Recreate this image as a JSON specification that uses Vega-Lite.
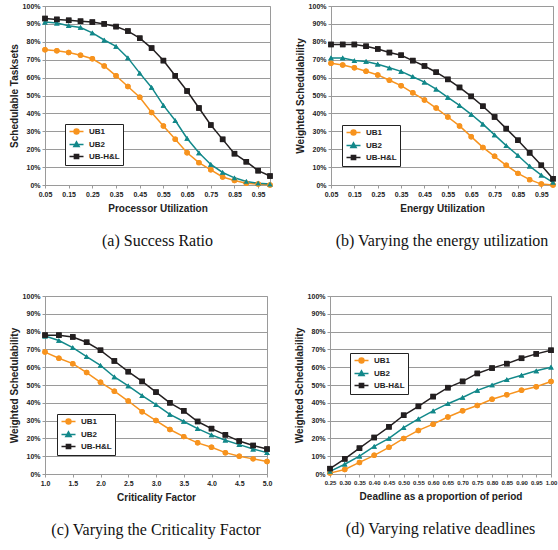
{
  "$schema": "https://vega.github.io/schema/vega-lite/v6.json",
  "padding": {"left": 8, "top": 1, "right": 2, "bottom": 0},
  "background": "white",
  "spacing": 41,
  "config": {
    "view": {"stroke": "#9a9a9a", "strokeWidth": 1},
    "font": "Liberation Sans",
    "axis": {
      "labelFont": "Liberation Sans", "labelFontSize": 7, "labelFontWeight": "bold", "labelColor": "#222",
      "titleFont": "Liberation Sans", "titleFontSize": 10, "titleFontWeight": "bold", "titleColor": "#222",
      "domainColor": "#9a9a9a", "tickColor": "#9a9a9a", "tickSize": 3, "labelPadding": 2,
      "gridColor": "#9a9a9a", "gridWidth": 1, "gridOpacity": 1, "labelOverlap": false, "labelBound": false
    },
    "axisX": {"grid": false, "labelAngle": 0, "titlePadding": 6, "labelFlush": false},
    "axisY": {"titlePadding": 3},
    "legend": {
      "orient": "none", "strokeColor": "#222", "fillColor": "white", "padding": 3,
      "labelFont": "Liberation Sans", "labelFontSize": 8, "labelFontWeight": "bold", "labelColor": "#222",
      "symbolSize": 49, "rowPadding": 1, "labelOffset": 8, "symbolOffset": 4,
      "symbolStrokeWidth": 1.5
    },
    "title": {"orient": "bottom", "font": "Liberation Serif", "fontSize": 16, "fontWeight": "normal", "color": "#111", "offset": 20, "anchor": "middle"}
  },
  "datasets": {
    "a": [
      {"x":0.05,"s":"UB1","y":75.5},{"x":0.10,"s":"UB1","y":75},{"x":0.15,"s":"UB1","y":74},{"x":0.20,"s":"UB1","y":72.5},{"x":0.25,"s":"UB1","y":70.5},{"x":0.30,"s":"UB1","y":66.5},{"x":0.35,"s":"UB1","y":61},{"x":0.40,"s":"UB1","y":55},{"x":0.45,"s":"UB1","y":49},{"x":0.50,"s":"UB1","y":40.5},{"x":0.55,"s":"UB1","y":33},{"x":0.60,"s":"UB1","y":25.5},{"x":0.65,"s":"UB1","y":18},{"x":0.70,"s":"UB1","y":12.5},{"x":0.75,"s":"UB1","y":8.5},{"x":0.80,"s":"UB1","y":4.5},{"x":0.85,"s":"UB1","y":2.5},{"x":0.90,"s":"UB1","y":1},{"x":0.95,"s":"UB1","y":0.5},{"x":1.00,"s":"UB1","y":0},
      {"x":0.05,"s":"UB2","y":91},{"x":0.10,"s":"UB2","y":90.5},{"x":0.15,"s":"UB2","y":89},{"x":0.20,"s":"UB2","y":88},{"x":0.25,"s":"UB2","y":85},{"x":0.30,"s":"UB2","y":81},{"x":0.35,"s":"UB2","y":77.5},{"x":0.40,"s":"UB2","y":71},{"x":0.45,"s":"UB2","y":62.5},{"x":0.50,"s":"UB2","y":54.5},{"x":0.55,"s":"UB2","y":44.5},{"x":0.60,"s":"UB2","y":36},{"x":0.65,"s":"UB2","y":26},{"x":0.70,"s":"UB2","y":18},{"x":0.75,"s":"UB2","y":11.5},{"x":0.80,"s":"UB2","y":7},{"x":0.85,"s":"UB2","y":4},{"x":0.90,"s":"UB2","y":2},{"x":0.95,"s":"UB2","y":1},{"x":1.00,"s":"UB2","y":0.5},
      {"x":0.05,"s":"UB-H&L","y":93},{"x":0.10,"s":"UB-H&L","y":92.5},{"x":0.15,"s":"UB-H&L","y":92},{"x":0.20,"s":"UB-H&L","y":91.5},{"x":0.25,"s":"UB-H&L","y":91},{"x":0.30,"s":"UB-H&L","y":90},{"x":0.35,"s":"UB-H&L","y":88.5},{"x":0.40,"s":"UB-H&L","y":86},{"x":0.45,"s":"UB-H&L","y":82},{"x":0.50,"s":"UB-H&L","y":76.5},{"x":0.55,"s":"UB-H&L","y":69.5},{"x":0.60,"s":"UB-H&L","y":61},{"x":0.65,"s":"UB-H&L","y":52.5},{"x":0.70,"s":"UB-H&L","y":43},{"x":0.75,"s":"UB-H&L","y":33.5},{"x":0.80,"s":"UB-H&L","y":25.5},{"x":0.85,"s":"UB-H&L","y":17.5},{"x":0.90,"s":"UB-H&L","y":13},{"x":0.95,"s":"UB-H&L","y":8},{"x":1.00,"s":"UB-H&L","y":5}
    ],
    "b": [
      {"x":0.05,"s":"UB1","y":68},{"x":0.10,"s":"UB1","y":67},{"x":0.15,"s":"UB1","y":65.5},{"x":0.20,"s":"UB1","y":63.5},{"x":0.25,"s":"UB1","y":61.5},{"x":0.30,"s":"UB1","y":58.5},{"x":0.35,"s":"UB1","y":55.5},{"x":0.40,"s":"UB1","y":51.5},{"x":0.45,"s":"UB1","y":47.5},{"x":0.50,"s":"UB1","y":43},{"x":0.55,"s":"UB1","y":38},{"x":0.60,"s":"UB1","y":33},{"x":0.65,"s":"UB1","y":27},{"x":0.70,"s":"UB1","y":21},{"x":0.75,"s":"UB1","y":16},{"x":0.80,"s":"UB1","y":11},{"x":0.85,"s":"UB1","y":6.5},{"x":0.90,"s":"UB1","y":3},{"x":0.95,"s":"UB1","y":0.5},{"x":1.00,"s":"UB1","y":0},
      {"x":0.05,"s":"UB2","y":71},{"x":0.10,"s":"UB2","y":71},{"x":0.15,"s":"UB2","y":69.5},{"x":0.20,"s":"UB2","y":69},{"x":0.25,"s":"UB2","y":67.5},{"x":0.30,"s":"UB2","y":65.5},{"x":0.35,"s":"UB2","y":63.5},{"x":0.40,"s":"UB2","y":60.5},{"x":0.45,"s":"UB2","y":57.5},{"x":0.50,"s":"UB2","y":53.5},{"x":0.55,"s":"UB2","y":49},{"x":0.60,"s":"UB2","y":44.5},{"x":0.65,"s":"UB2","y":39.5},{"x":0.70,"s":"UB2","y":34},{"x":0.75,"s":"UB2","y":28},{"x":0.80,"s":"UB2","y":22},{"x":0.85,"s":"UB2","y":16.5},{"x":0.90,"s":"UB2","y":10.5},{"x":0.95,"s":"UB2","y":5.5},{"x":1.00,"s":"UB2","y":1.5},
      {"x":0.05,"s":"UB-H&L","y":78.5},{"x":0.10,"s":"UB-H&L","y":78.5},{"x":0.15,"s":"UB-H&L","y":78.5},{"x":0.20,"s":"UB-H&L","y":77.5},{"x":0.25,"s":"UB-H&L","y":76},{"x":0.30,"s":"UB-H&L","y":74},{"x":0.35,"s":"UB-H&L","y":72.5},{"x":0.40,"s":"UB-H&L","y":69.5},{"x":0.45,"s":"UB-H&L","y":66.5},{"x":0.50,"s":"UB-H&L","y":63},{"x":0.55,"s":"UB-H&L","y":59},{"x":0.60,"s":"UB-H&L","y":54.5},{"x":0.65,"s":"UB-H&L","y":49.5},{"x":0.70,"s":"UB-H&L","y":44},{"x":0.75,"s":"UB-H&L","y":38},{"x":0.80,"s":"UB-H&L","y":31.5},{"x":0.85,"s":"UB-H&L","y":25},{"x":0.90,"s":"UB-H&L","y":18},{"x":0.95,"s":"UB-H&L","y":11},{"x":1.00,"s":"UB-H&L","y":3.5}
    ],
    "c": [
      {"x":1.0,"s":"UB1","y":68.5},{"x":1.25,"s":"UB1","y":65},{"x":1.5,"s":"UB1","y":62},{"x":1.75,"s":"UB1","y":57},{"x":2.0,"s":"UB1","y":51.5},{"x":2.25,"s":"UB1","y":46.5},{"x":2.5,"s":"UB1","y":41},{"x":2.75,"s":"UB1","y":35},{"x":3.0,"s":"UB1","y":30},{"x":3.25,"s":"UB1","y":25},{"x":3.5,"s":"UB1","y":21},{"x":3.75,"s":"UB1","y":17.5},{"x":4.0,"s":"UB1","y":15},{"x":4.25,"s":"UB1","y":12},{"x":4.5,"s":"UB1","y":10},{"x":4.75,"s":"UB1","y":8.5},{"x":5.0,"s":"UB1","y":7},
      {"x":1.0,"s":"UB2","y":77.5},{"x":1.25,"s":"UB2","y":75},{"x":1.5,"s":"UB2","y":71},{"x":1.75,"s":"UB2","y":66},{"x":2.0,"s":"UB2","y":61},{"x":2.25,"s":"UB2","y":54.5},{"x":2.5,"s":"UB2","y":49.5},{"x":2.75,"s":"UB2","y":44},{"x":3.0,"s":"UB2","y":39},{"x":3.25,"s":"UB2","y":33.5},{"x":3.5,"s":"UB2","y":29.5},{"x":3.75,"s":"UB2","y":25.5},{"x":4.0,"s":"UB2","y":22},{"x":4.25,"s":"UB2","y":19},{"x":4.5,"s":"UB2","y":16.5},{"x":4.75,"s":"UB2","y":14},{"x":5.0,"s":"UB2","y":12},
      {"x":1.0,"s":"UB-H&L","y":78},{"x":1.25,"s":"UB-H&L","y":78},{"x":1.5,"s":"UB-H&L","y":77},{"x":1.75,"s":"UB-H&L","y":74},{"x":2.0,"s":"UB-H&L","y":69.5},{"x":2.25,"s":"UB-H&L","y":63.5},{"x":2.5,"s":"UB-H&L","y":57.5},{"x":2.75,"s":"UB-H&L","y":52},{"x":3.0,"s":"UB-H&L","y":46},{"x":3.25,"s":"UB-H&L","y":40},{"x":3.5,"s":"UB-H&L","y":35.5},{"x":3.75,"s":"UB-H&L","y":29.5},{"x":4.0,"s":"UB-H&L","y":25.5},{"x":4.25,"s":"UB-H&L","y":22},{"x":4.5,"s":"UB-H&L","y":18.5},{"x":4.75,"s":"UB-H&L","y":16},{"x":5.0,"s":"UB-H&L","y":14}
    ],
    "d": [
      {"x":0.25,"s":"UB1","y":0.5},{"x":0.30,"s":"UB1","y":2.5},{"x":0.35,"s":"UB1","y":6.5},{"x":0.40,"s":"UB1","y":10.5},{"x":0.45,"s":"UB1","y":15},{"x":0.50,"s":"UB1","y":20},{"x":0.55,"s":"UB1","y":24.5},{"x":0.60,"s":"UB1","y":28},{"x":0.65,"s":"UB1","y":32},{"x":0.70,"s":"UB1","y":35.5},{"x":0.75,"s":"UB1","y":38.5},{"x":0.80,"s":"UB1","y":42},{"x":0.85,"s":"UB1","y":44.5},{"x":0.90,"s":"UB1","y":47},{"x":0.95,"s":"UB1","y":49},{"x":1.00,"s":"UB1","y":52},
      {"x":0.25,"s":"UB2","y":1.5},{"x":0.30,"s":"UB2","y":5.5},{"x":0.35,"s":"UB2","y":10},{"x":0.40,"s":"UB2","y":15.5},{"x":0.45,"s":"UB2","y":20},{"x":0.50,"s":"UB2","y":26},{"x":0.55,"s":"UB2","y":31},{"x":0.60,"s":"UB2","y":35.5},{"x":0.65,"s":"UB2","y":39.5},{"x":0.70,"s":"UB2","y":43},{"x":0.75,"s":"UB2","y":47},{"x":0.80,"s":"UB2","y":50},{"x":0.85,"s":"UB2","y":53},{"x":0.90,"s":"UB2","y":55.5},{"x":0.95,"s":"UB2","y":58},{"x":1.00,"s":"UB2","y":60},
      {"x":0.25,"s":"UB-H&L","y":3},{"x":0.30,"s":"UB-H&L","y":8.5},{"x":0.35,"s":"UB-H&L","y":14.5},{"x":0.40,"s":"UB-H&L","y":20.5},{"x":0.45,"s":"UB-H&L","y":26.5},{"x":0.50,"s":"UB-H&L","y":33},{"x":0.55,"s":"UB-H&L","y":38},{"x":0.60,"s":"UB-H&L","y":43.5},{"x":0.65,"s":"UB-H&L","y":48.5},{"x":0.70,"s":"UB-H&L","y":52},{"x":0.75,"s":"UB-H&L","y":56.5},{"x":0.80,"s":"UB-H&L","y":59.5},{"x":0.85,"s":"UB-H&L","y":62},{"x":0.90,"s":"UB-H&L","y":65},{"x":0.95,"s":"UB-H&L","y":67.5},{"x":1.00,"s":"UB-H&L","y":69.5}
    ]
  },
  "resolve": {"scale": {"color": "independent", "shape": "independent"}, "legend": {"color": "independent", "shape": "independent"}},
  "vconcat": [
    {
      "spacing": 20,
      "resolve": {"scale": {"color": "independent", "shape": "independent"}, "legend": {"color": "independent", "shape": "independent"}},
      "hconcat": [
        {
          "width": 225, "height": 179,
          "data": {"name": "a"},
          "title": {"text": "(a) Success Ratio"},
          "encoding": {
            "x": {"field": "x", "type": "quantitative", "scale": {"domain": [0.05, 1.0], "nice": false, "zero": false}, "axis": {"values": [0.05,0.15,0.25,0.35,0.45,0.55,0.65,0.75,0.85,0.95], "format": ".2f", "title": "Processor Utilization"}},
            "y": {"field": "y", "type": "quantitative", "scale": {"domain": [0, 100], "nice": false}, "axis": {"values": [0,10,20,30,40,50,60,70,80,90,100], "labelExpr": "datum.value + '%'", "title": "Schedulable Tasksets"}},
            "color": {
              "field": "s", "type": "nominal",
              "scale": {"domain": ["UB1","UB2","UB-H&L"], "range": ["#F7931E","#12888A","#231F20"]},
              "legend": {
                "title": null, "legendX": 20, "legendY": 118,
                "encode": {"symbols": {"update": {
                  "shape": {"signal": "datum.value === 'UB1' ? 'M-2,0L2,0M0.7,0A0.7,0.7,0,1,1,-0.7,0A0.7,0.7,0,1,1,0.7,0Z' : datum.value === 'UB2' ? 'M-2,0L2,0M0,-0.75L0.75,0.55L-0.75,0.55Z' : 'M-2,0L2,0M-0.6,-0.6L0.6,-0.6L0.6,0.6L-0.6,0.6Z'"},
                  "stroke": {"signal": "datum.value === 'UB1' ? '#F7931E' : datum.value === 'UB2' ? '#12888A' : '#231F20'"},
                  "fill": {"signal": "datum.value === 'UB1' ? '#F7931E' : datum.value === 'UB2' ? '#12888A' : '#231F20'"},
                  "strokeWidth": {"value": 1.5}
                }}}
              }
            },
            "shape": {"field": "s", "type": "nominal", "sort": ["UB1","UB2","UB-H&L"], "scale": {"range": ["circle","triangle-up","square"]}, "legend": null}
          },
          "layer": [
            {"mark": {"type": "line", "strokeWidth": 1.5}},
            {"mark": {"type": "point", "filled": true, "opacity": 1, "size": 30}}
          ]
        },
        {
          "width": 222, "height": 179,
          "data": {"name": "b"},
          "title": {"text": "(b) Varying the energy utilization"},
          "encoding": {
            "x": {"field": "x", "type": "quantitative", "scale": {"domain": [0.05, 1.0], "nice": false, "zero": false}, "axis": {"values": [0.05,0.15,0.25,0.35,0.45,0.55,0.65,0.75,0.85,0.95], "format": ".2f", "title": "Energy Utilization"}},
            "y": {"field": "y", "type": "quantitative", "scale": {"domain": [0, 100], "nice": false}, "axis": {"values": [0,10,20,30,40,50,60,70,80,90,100], "labelExpr": "datum.value + '%'", "title": "Weighted Schedulability"}},
            "color": {
              "field": "s", "type": "nominal",
              "scale": {"domain": ["UB1","UB2","UB-H&L"], "range": ["#F7931E","#12888A","#231F20"]},
              "legend": {
                "title": null, "legendX": 11, "legendY": 119,
                "encode": {"symbols": {"update": {
                  "shape": {"signal": "datum.value === 'UB1' ? 'M-2,0L2,0M0.7,0A0.7,0.7,0,1,1,-0.7,0A0.7,0.7,0,1,1,0.7,0Z' : datum.value === 'UB2' ? 'M-2,0L2,0M0,-0.75L0.75,0.55L-0.75,0.55Z' : 'M-2,0L2,0M-0.6,-0.6L0.6,-0.6L0.6,0.6L-0.6,0.6Z'"},
                  "stroke": {"signal": "datum.value === 'UB1' ? '#F7931E' : datum.value === 'UB2' ? '#12888A' : '#231F20'"},
                  "fill": {"signal": "datum.value === 'UB1' ? '#F7931E' : datum.value === 'UB2' ? '#12888A' : '#231F20'"},
                  "strokeWidth": {"value": 1.5}
                }}}
              }
            },
            "shape": {"field": "s", "type": "nominal", "sort": ["UB1","UB2","UB-H&L"], "scale": {"range": ["circle","triangle-up","square"]}, "legend": null}
          },
          "layer": [
            {"mark": {"type": "line", "strokeWidth": 1.5}},
            {"mark": {"type": "point", "filled": true, "opacity": 1, "size": 30}}
          ]
        }
      ]
    },
    {
      "spacing": 20,
      "resolve": {"scale": {"color": "independent", "shape": "independent"}, "legend": {"color": "independent", "shape": "independent"}},
      "hconcat": [
        {
          "width": 222, "height": 178,
          "data": {"name": "c"},
          "title": {"text": "(c) Varying the Criticality Factor"},
          "encoding": {
            "x": {"field": "x", "type": "quantitative", "scale": {"domain": [1.0, 5.0], "nice": false, "zero": false}, "axis": {"values": [1.0,1.5,2.0,2.5,3.0,3.5,4.0,4.5,5.0], "format": ".1f", "title": "Criticality Factor"}},
            "y": {"field": "y", "type": "quantitative", "scale": {"domain": [0, 100], "nice": false}, "axis": {"values": [0,10,20,30,40,50,60,70,80,90,100], "labelExpr": "datum.value + '%'", "title": "Weighted Schedulability"}},
            "color": {
              "field": "s", "type": "nominal",
              "scale": {"domain": ["UB1","UB2","UB-H&L"], "range": ["#F7931E","#12888A","#231F20"]},
              "legend": {
                "title": null, "legendX": 12, "legendY": 118,
                "encode": {"symbols": {"update": {
                  "shape": {"signal": "datum.value === 'UB1' ? 'M-2,0L2,0M0.7,0A0.7,0.7,0,1,1,-0.7,0A0.7,0.7,0,1,1,0.7,0Z' : datum.value === 'UB2' ? 'M-2,0L2,0M0,-0.75L0.75,0.55L-0.75,0.55Z' : 'M-2,0L2,0M-0.6,-0.6L0.6,-0.6L0.6,0.6L-0.6,0.6Z'"},
                  "stroke": {"signal": "datum.value === 'UB1' ? '#F7931E' : datum.value === 'UB2' ? '#12888A' : '#231F20'"},
                  "fill": {"signal": "datum.value === 'UB1' ? '#F7931E' : datum.value === 'UB2' ? '#12888A' : '#231F20'"},
                  "strokeWidth": {"value": 1.5}
                }}}
              }
            },
            "shape": {"field": "s", "type": "nominal", "sort": ["UB1","UB2","UB-H&L"], "scale": {"range": ["circle","triangle-up","square"]}, "legend": null}
          },
          "layer": [
            {"mark": {"type": "line", "strokeWidth": 1.5}},
            {"mark": {"type": "point", "filled": true, "opacity": 1, "size": 30}}
          ]
        },
        {
          "width": 221, "height": 178,
          "data": {"name": "d"},
          "title": {"text": "(d) Varying relative deadlines"},
          "encoding": {
            "x": {"field": "x", "type": "quantitative", "scale": {"domain": [0.25, 1.0], "nice": false, "zero": false}, "axis": {"values": [0.25,0.30,0.35,0.40,0.45,0.50,0.55,0.60,0.65,0.70,0.75,0.80,0.85,0.90,0.95,1.00], "format": ".2f", "labelFontSize": 6, "title": "Deadline as a proportion of period"}},
            "y": {"field": "y", "type": "quantitative", "scale": {"domain": [0, 100], "nice": false}, "axis": {"values": [0,10,20,30,40,50,60,70,80,90,100], "labelExpr": "datum.value + '%'", "title": "Weighted Schedulability"}},
            "color": {
              "field": "s", "type": "nominal",
              "scale": {"domain": ["UB1","UB2","UB-H&L"], "range": ["#F7931E","#12888A","#231F20"]},
              "legend": {
                "title": null, "legendX": 20, "legendY": 57,
                "encode": {"symbols": {"update": {
                  "shape": {"signal": "datum.value === 'UB1' ? 'M-2,0L2,0M0.7,0A0.7,0.7,0,1,1,-0.7,0A0.7,0.7,0,1,1,0.7,0Z' : datum.value === 'UB2' ? 'M-2,0L2,0M0,-0.75L0.75,0.55L-0.75,0.55Z' : 'M-2,0L2,0M-0.6,-0.6L0.6,-0.6L0.6,0.6L-0.6,0.6Z'"},
                  "stroke": {"signal": "datum.value === 'UB1' ? '#F7931E' : datum.value === 'UB2' ? '#12888A' : '#231F20'"},
                  "fill": {"signal": "datum.value === 'UB1' ? '#F7931E' : datum.value === 'UB2' ? '#12888A' : '#231F20'"},
                  "strokeWidth": {"value": 1.5}
                }}}
              }
            },
            "shape": {"field": "s", "type": "nominal", "sort": ["UB1","UB2","UB-H&L"], "scale": {"range": ["circle","triangle-up","square"]}, "legend": null}
          },
          "layer": [
            {"mark": {"type": "line", "strokeWidth": 1.5}},
            {"mark": {"type": "point", "filled": true, "opacity": 1, "size": 30}}
          ]
        }
      ]
    }
  ]
}
